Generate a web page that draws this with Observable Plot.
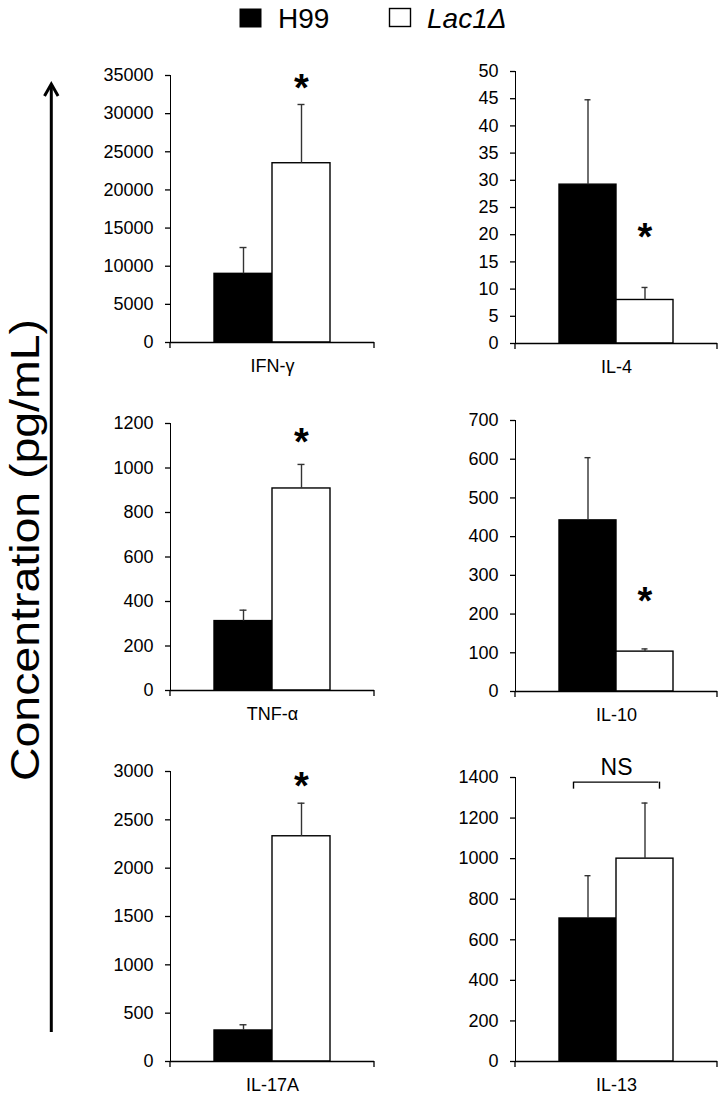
<!DOCTYPE html>
<html>
<head>
<meta charset="utf-8">
<script src="https://cdn.jsdelivr.net/npm/d3@7"></script>
<script src="https://cdn.jsdelivr.net/npm/@observablehq/plot@0.6"></script>
<style>
  html, body { margin: 0; padding: 0; background: white; overflow: hidden; }
  #root { position: relative; width: 727px; height: 1096px; font-family: "Liberation Sans", Arial, sans-serif; }
  .panel { position: absolute; }
  .panel svg { max-width: none; background: transparent; }
  .panel svg [aria-label^="y-axis"] { stroke-width: 1.3; }
  #overlay { position: absolute; left: 0; top: 0; }
</style>
</head>
<body>
<div id="root"></div>
<script>
// ---- data ----
const cytokines = ["IFN-γ", "IL-4", "TNF-α", "IL-10", "IL-17A", "IL-13"];
const strains = ["H99", "Lac1Δ"];
const h99Mean  = [9000, 29.2, 312, 442, 321, 705];
const h99Upper = [12450, 44.8, 361, 604, 380, 916];
const lacMean  = [23500, 8.0, 908, 103, 2330, 1000];
const lacUpper = [31200, 10.3, 1016, 110, 2672, 1274];
const yMax  = [35000, 50, 1200, 700, 3000, 1400];
const yStep = [5000, 5, 200, 100, 500, 200];
const sigLabel = ["*", "*", "*", "*", "*", "NS"];
const sigY = [34450, 21.1, 1155, 256, 2930, 1377];
const yAxisTitle = "Concentration (pg/mL)";

// ---- layout (pixels) ----
const layout = [
  {left: 70,  yTop: 75,  yZero: 342, ml: 100, w: 324, mr: 20},
  {left: 400, yTop: 71,  yZero: 343, ml: 115, w: 327, mr: 10},
  {left: 70,  yTop: 423, yZero: 690, ml: 100, w: 324, mr: 20},
  {left: 400, yTop: 420, yZero: 691, ml: 115, w: 327, mr: 10},
  {left: 70,  yTop: 771, yZero: 1061, ml: 100, w: 324, mr: 20},
  {left: 400, yTop: 777, yZero: 1061, ml: 115, w: 327, mr: 10}
];
const MT = 40, MB = 35;
const root = document.getElementById("root");

function axisEnds(index, scales, values, dim) {
  const g = d3.create("svg:g").attr("stroke", "black").attr("stroke-width", 1.3);
  const y0 = dim.height - dim.marginBottom;
  [dim.marginLeft, dim.width - dim.marginRight].forEach(x =>
    g.append("line").attr("x1", x).attr("x2", x).attr("y1", y0).attr("y2", y0 + 6));
  return g.node();
}

cytokines.forEach((name, i) => {
  const L = layout[i];
  const rows = [
    {strain: strains[0], mean: h99Mean[i], upper: h99Upper[i]},
    {strain: strains[1], mean: lacMean[i], upper: lacUpper[i]}
  ];
  const plotH = L.yZero - L.yTop;
  const marks = [
    Plot.barY(rows, {x: "strain", y: "mean", fill: "strain", stroke: "black", strokeWidth: 1.4}),
    Plot.ruleX(rows, {x: "strain", y1: "mean", y2: "upper", stroke: "#333", strokeWidth: 1.4}),
    Plot.tickY(rows, {x: "strain", y: "upper", stroke: "#333", strokeWidth: 1.4, insetLeft: 25.5, insetRight: 25.5}),
    Plot.ruleY([0], {stroke: "black", strokeWidth: 1.3}),
    axisEnds,
    Plot.text([name], {frameAnchor: "bottom", lineAnchor: "top", dy: 17, fontSize: 18, fill: "black"})
  ];
  if (sigLabel[i] === "*") {
    marks.push(Plot.text([{strain: strains[1], y: sigY[i]}], {
      x: "strain", y: "y", text: () => "*", fontSize: 38, fontWeight: "bold", dy: 9, fill: "black"
    }));
  } else {
    const drop = 7 / plotH * yMax[i];
    const b = [{strain: strains[0], y: sigY[i]}, {strain: strains[1], y: sigY[i]}];
    marks.push(
      Plot.tickY([b[0]], {x: "strain", y: "y", stroke: "black", strokeWidth: 1.4, insetLeft: 14.7, insetRight: 0}),
      Plot.tickY([b[1]], {x: "strain", y: "y", stroke: "black", strokeWidth: 1.4, insetLeft: 0, insetRight: 14.7}),
      Plot.ruleX([b[0]], {x: "strain", y1: "y", y2: d => d.y - drop, dx: -14.5, stroke: "black", strokeWidth: 1.4}),
      Plot.ruleX([b[1]], {x: "strain", y1: "y", y2: d => d.y - drop, dx: 14.5, stroke: "black", strokeWidth: 1.4}),
      Plot.text([sigLabel[i]], {y: sigY[i], dy: -14.5, fontSize: 23, fill: "black"})
    );
  }
  const chart = Plot.plot({
    width: L.w,
    height: plotH + MT + MB,
    marginLeft: L.ml,
    marginRight: L.mr,
    marginTop: MT,
    marginBottom: MB,
    x: {domain: strains, paddingInner: 0, paddingOuter: 0.75, axis: null},
    y: {
      domain: [0, yMax[i]],
      ticks: d3.range(0, yMax[i] + yStep[i] / 2, yStep[i]),
      tickSize: 5,
      tickPadding: 12,
      line: true,
      label: null,
      tickFormat: d3.format("d")
    },
    color: {domain: strains, range: ["black", "white"]},
    style: {fontFamily: "'Liberation Sans', Arial, sans-serif", fontSize: "18px", color: "black", background: "transparent", overflow: "visible"},
    marks
  });
  const div = document.createElement("div");
  div.className = "panel";
  div.style.left = L.left + "px";
  div.style.top = (L.yTop - MT) + "px";
  div.appendChild(chart);
  root.appendChild(div);
});

// ---- legend, axis title and arrow ----
const ov = d3.select(root).append("svg").attr("id", "overlay")
  .attr("width", 727).attr("height", 1096)
  .style("pointer-events", "none")
  .style("font-family", "'Liberation Sans', Arial, sans-serif");
ov.append("rect").attr("x", 239.5).attr("y", 8.5).attr("width", 22).attr("height", 19).attr("fill", "black");
ov.append("text").attr("x", 278).attr("y", 28).attr("font-size", 28).text(strains[0]);
ov.append("rect").attr("x", 389.5).attr("y", 8.5).attr("width", 21).attr("height", 18)
  .attr("fill", "white").attr("stroke", "black").attr("stroke-width", 1.4);
ov.append("text").attr("x", 427).attr("y", 28).attr("font-size", 28).attr("font-style", "italic").text(strains[1]);

ov.append("text").attr("transform", "translate(39,550) rotate(-90)")
  .attr("text-anchor", "middle").attr("font-size", 41)
  .attr("textLength", 462).attr("lengthAdjust", "spacingAndGlyphs")
  .text(yAxisTitle);
ov.append("line").attr("x1", 51.3).attr("x2", 51.3).attr("y1", 1032).attr("y2", 85)
  .attr("stroke", "black").attr("stroke-width", 3);
ov.append("polyline").attr("points", "44.5,96 51.3,84 58.1,96")
  .attr("fill", "none").attr("stroke", "black").attr("stroke-width", 3).attr("stroke-linejoin", "miter");
</script>
</body>
</html>
